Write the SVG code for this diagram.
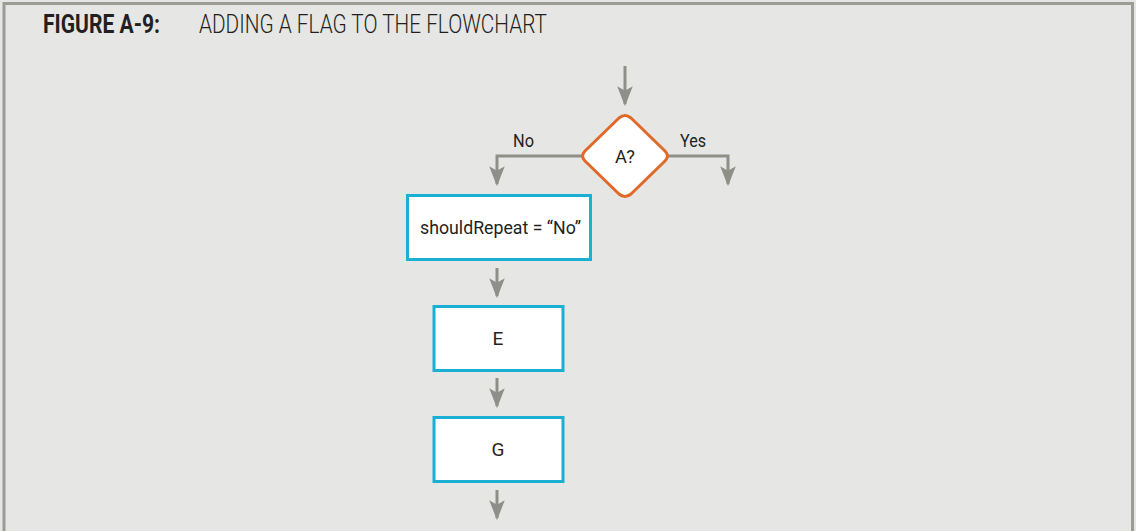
<svg xmlns="http://www.w3.org/2000/svg" width="1136" height="531" viewBox="0 0 1136 531">
<style>
.bg{fill:#e6e6e4}
.frame{fill:none;stroke:#9a9c96;stroke-width:3}
.proc{fill:#ffffff;stroke:#1aafd3;stroke-width:3}
.dec{fill:#ffffff;stroke:#e0692a;stroke-width:3;stroke-linejoin:round}
.conn{fill:none;stroke:#8e8f88;stroke-width:3}
.lbl{font-family:Roboto,"Liberation Sans",sans-serif;font-size:19px;fill:#231f20}
.t1{font-family:Roboto,"Liberation Sans",sans-serif;font-size:26px;font-weight:bold;fill:#231f20}
.t2{font-family:Roboto,"Liberation Sans",sans-serif;font-size:26px;font-weight:300;fill:#231f20}
</style>
<defs>
<marker id="ah" markerUnits="userSpaceOnUse" markerWidth="20" markerHeight="16" refX="16" refY="7" orient="auto" viewBox="0 0 18 14">
<path d="M0,0 L4,7 L0,14 L18,7 Z" fill="#8e8f88"/>
</marker>
</defs>
<rect class="bg" x="0" y="0" width="1136" height="531"/>
<path class="frame" d="M4,531 V3.5 H1132.5 V531"/>
<g id="title">
<text class="t1" x="43" y="33" textLength="117" lengthAdjust="spacingAndGlyphs">FIGURE A-9:</text>
<text class="t2" x="199" y="33" textLength="348" lengthAdjust="spacingAndGlyphs">ADDING A FLAG TO THE FLOWCHART</text>
</g>
<g id="connectors">
<path class="conn" d="M625,66 V104" marker-end="url(#ah)"/>
<path class="conn" d="M583,156 H497 V184" marker-end="url(#ah)"/>
<path class="conn" d="M668,156 H728 V184" marker-end="url(#ah)"/>
<path class="conn" d="M497,268 V296" marker-end="url(#ah)"/>
<path class="conn" d="M497,378 V406" marker-end="url(#ah)"/>
<path class="conn" d="M497,490 V518" marker-end="url(#ah)"/>
<text class="lbl" x="513" y="147" textLength="21" lengthAdjust="spacingAndGlyphs">No</text>
<text class="lbl" x="680" y="147" textLength="26" lengthAdjust="spacingAndGlyphs">Yes</text>
</g>
<g id="nodeA">
<path class="dec" d="M619,118 Q625,113 631,118 L665,151 Q670,156 665,161 L631,194 Q625,199 619,194 L585,161 Q580,156 585,151 Z"/>
<text class="lbl" x="615" y="163" textLength="20" lengthAdjust="spacingAndGlyphs">A?</text>
</g>
<g id="nodeFlag">
<rect class="proc" x="407.5" y="195.5" width="183" height="64"/>
<text class="lbl" x="420" y="234" textLength="161" lengthAdjust="spacingAndGlyphs">shouldRepeat = “No”</text>
</g>
<g id="nodeE">
<rect class="proc" x="434" y="306.5" width="129" height="64"/>
<text class="lbl" x="498" y="345" text-anchor="middle">E</text>
</g>
<g id="nodeG">
<rect class="proc" x="434" y="417.5" width="129" height="64"/>
<text class="lbl" x="498" y="456" text-anchor="middle">G</text>
</g>
</svg>
